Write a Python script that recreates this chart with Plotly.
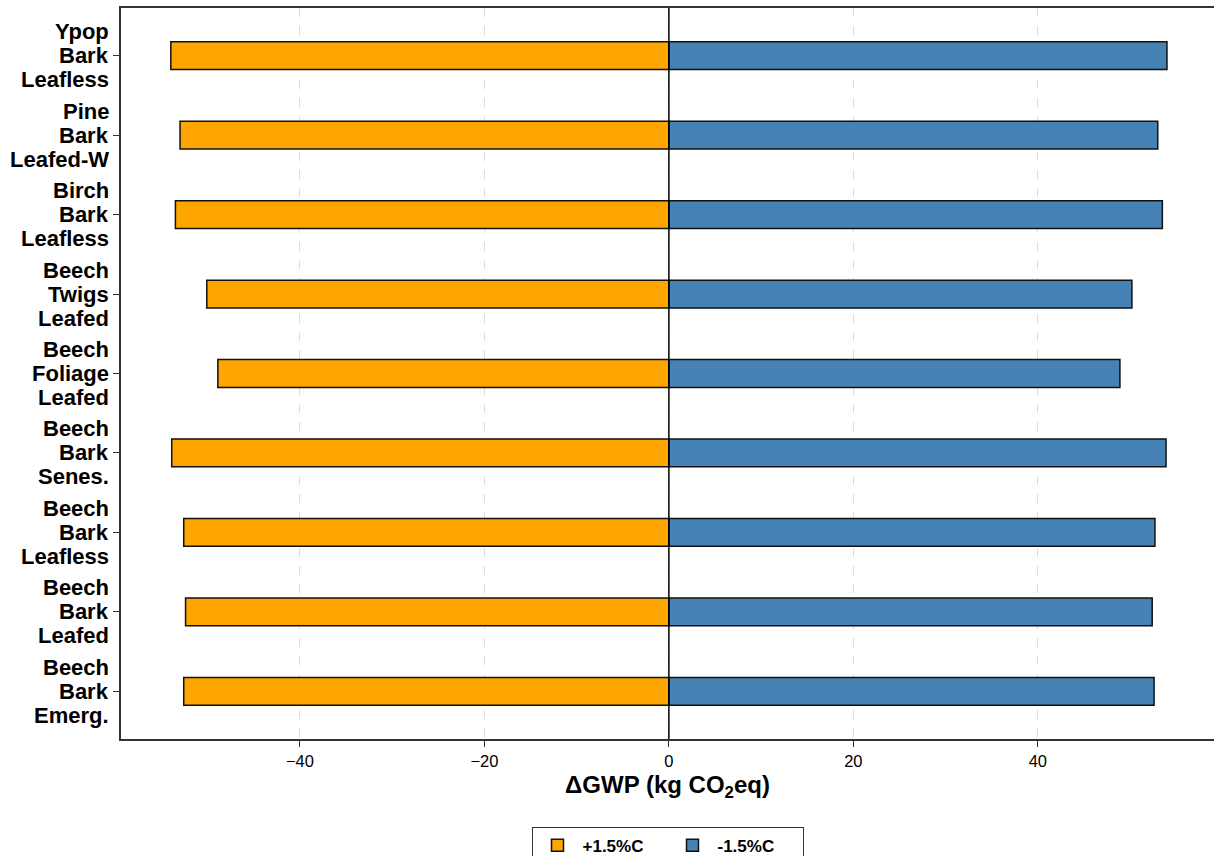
import plotly.graph_objects as go

# Sample groups, top to bottom: species / tissue / phenological stage
species = ["Ypop", "Pine", "Birch", "Beech", "Beech", "Beech", "Beech", "Beech", "Beech"]
tissue = ["Bark", "Bark", "Bark", "Twigs", "Foliage", "Bark", "Bark", "Bark", "Bark"]
stage = ["Leafless", "Leafed-W", "Leafless", "Leafed", "Leafed", "Senes.", "Leafless", "Leafed", "Emerg."]

# Change in GWP (kg CO2eq) for each temperature scenario
plus_15 = [-54.0, -53.0, -53.5, -50.1, -48.9, -53.9, -52.6, -52.4, -52.6]
minus_15 = [54.0, 53.0, 53.5, 50.2, 48.9, 53.9, 52.7, 52.4, 52.6]

categories = [f"{s} {t} {p}" for s, t, p in zip(species, tissue, stage)]
order = categories[::-1]  # bottom to top on the axis

fig = go.Figure()
fig.add_trace(go.Bar(
    y=categories, x=plus_15, orientation="h", name="+1.5%C",
    width=0.35, marker=dict(color="#FFA500", line=dict(color="#111111", width=1.5)),
))
fig.add_trace(go.Bar(
    y=categories, x=minus_15, orientation="h", name="-1.5%C",
    width=0.35, marker=dict(color="#4682B4", line=dict(color="#111111", width=1.5)),
))

fig.add_vline(x=0, line=dict(color="black", width=1.5))

# Three-line group labels, tight line spacing, placed at each category tick
label_font = dict(family="Liberation Sans, Arial, sans-serif", size=22, color="black", weight="bold")
for cat, s, t, p in zip(categories, species, tissue, stage):
    for text, shift in ((s, 24), (t, 0), (p, -24)):
        fig.add_annotation(
            x=0, xref="paper", y=cat, yref="y", text=text, showarrow=False,
            xanchor="right", yanchor="middle", xshift=-10, yshift=shift,
            font=label_font,
        )

fig.update_layout(
    width=1214, height=856,
    margin=dict(l=121, r=0, t=8, b=117, autoexpand=False),
    barmode="overlay",
    plot_bgcolor="white", paper_bgcolor="white",
    font=dict(family="Liberation Sans, Arial, sans-serif", color="black"),
    showlegend=True,
    legend=dict(
        orientation="h", x=0.5, xanchor="center", y=-0.12, yanchor="top",
        font=dict(size=17, weight="bold"),
        bordercolor="#333333", borderwidth=1, bgcolor="white",
        itemwidth=40, entrywidthmode="pixels", entrywidth=80,
    ),
    xaxis=dict(
        range=[-59.4, 59.1],
        tickvals=[-40, -20, 0, 20, 40],
        ticktext=["\u221240", "\u221220", "0", "20", "40"],
        tickfont=dict(size=16.5),
        ticks="outside", ticklen=6, tickcolor="#333333",
        showline=True, linecolor="#333333", linewidth=1.5, mirror=True,
        showgrid=True, gridcolor="#dcdcdc", griddash="dash", gridwidth=1,
        zeroline=False,
        title=dict(text="\u0394GWP (kg CO<sub>2</sub>eq)",
                   font=dict(size=24, weight="bold"), standoff=8),
    ),
    yaxis=dict(
        type="category", categoryorder="array", categoryarray=order,
        range=[-0.6, 8.6],
        showticklabels=False,
        ticks="outside", ticklen=6, tickcolor="#333333",
        showline=True, linecolor="#333333", linewidth=1.5, mirror=False,
        showgrid=False, zeroline=False,
    ),
)

fig.write_html("out.html")
